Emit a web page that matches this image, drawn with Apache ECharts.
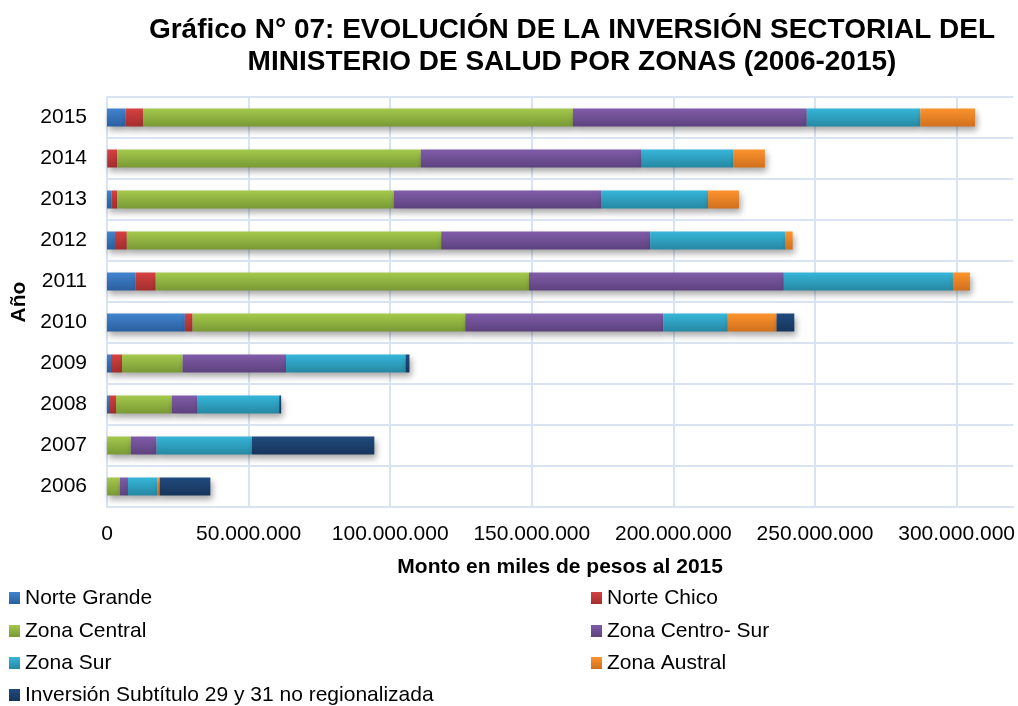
<!DOCTYPE html>
<html>
<head>
<meta charset="utf-8">
<script src="https://cdn.jsdelivr.net/npm/echarts@6/dist/echarts.min.js"></script>
<style>html,body{margin:0;padding:0;background:#fff;}#c{width:1018px;height:706px;}</style>
</head>
<body>
<div id="c"></div>
<script>
// Data (miles de pesos al 2015)
const years = ['2006','2007','2008','2009','2010','2011','2012','2013','2014','2015'];
const norteGrande  = [0,     0,     0.7e6, 1.4e6, 27.5e6, 10.1e6, 2.8e6,  1.65e6, 0.1e6,  6.6e6];
const norteChico   = [0,     0,     2.5e6, 3.9e6, 2.7e6,  7.1e6,  4.2e6,  1.9e6,  3.5e6,  6.1e6];
const zonaCentral  = [4.6e6, 8.4e6, 19.7e6,21.4e6,96.3e6, 131.8e6,111.0e6,97.7e6, 107.2e6,151.8e6];
const zonaCentroSur= [2.8e6, 9.1e6, 9.1e6, 36.5e6,69.9e6, 90.0e6, 73.8e6, 73.4e6, 78.0e6, 82.6e6];
const zonaSur      = [10.4e6,33.7e6,28.8e6,42.2e6,22.8e6, 59.7e6, 47.8e6, 37.6e6, 32.3e6, 40.1e6];
const zonaAustral  = [0.8e6, 0,     0,     0,     17.2e6, 6.0e6,  2.5e6,  10.9e6, 11.2e6, 19.3e6];
const noRegional   = [17.9e6,43.2e6,0.7e6, 1.4e6, 6.3e6,  0,      0,      0,      0,      0];
const xTicks = [0, 50e6, 100e6, 150e6, 200e6, 250e6, 300e6];

const seriesDefs = [
  ['Norte Grande', norteGrande, '#4184cf', '#2b5f9f'],
  ['Norte Chico', norteChico, '#d64141', '#a32e2e'],
  ['Zona Central', zonaCentral, '#a4c94c', '#799935'],
  ['Zona Centro- Sur', zonaCentroSur, '#805ca9', '#5d427e'],
  ['Zona Sur', zonaSur, '#36b6d9', '#2688a3'],
  ['Zona Austral', zonaAustral, '#fc932d', '#d06f1d'],
  ['Inversión Subtítulo 29 y 31 no regionalizada', noRegional, '#204b7e', '#16355a']
];

function fmt(v){
  const s = String(Math.round(v));
  return s.replace(/\B(?=(\d{3})+(?!\d))/g, '.');
}

const font = 'Liberation Sans, Arial, sans-serif';
const gridColor = '#d9e4f2';

const chart = echarts.init(document.getElementById('c'), null, {renderer:'canvas'});
const series = seriesDefs.map(d => ({
  name: d[0], type: 'bar', stack: 'total', data: d[1], barWidth: 18,
  itemStyle: {
    color: new echarts.graphic.LinearGradient(0,0,0,1,[{offset:0,color:d[2]},{offset:1,color:d[3]}]),
    shadowColor: 'rgba(0,0,0,0.35)', shadowBlur: 6, shadowOffsetX: 2, shadowOffsetY: 4
  },
  emphasis: {disabled: true}
}));

// legend slots: [series index, left, top]
const legendSlots = [[0,9,587],[1,591,587],[2,9,620],[3,591,620],[4,9,652],[5,591,652],[6,9,684]];
const legends = legendSlots.map(s => ({
  left: s[1], top: s[2], padding: 0, orient: 'horizontal',
  itemWidth: 11, itemHeight: 12, icon: 'rect', selectedMode: false,
  data: [seriesDefs[s[0]][0]],
  textStyle: {fontFamily: font, fontSize: 21, color: '#000', lineHeight: 22, padding: [0,0,0,0]}
}));

chart.setOption({
  animation: false,
  backgroundColor: '#fff',
  title: {
    text: 'Gráfico N° 07: EVOLUCIÓN DE LA INVERSIÓN SECTORIAL DEL\nMINISTERIO DE SALUD POR ZONAS (2006-2015)',
    left: 572, top: 14, textAlign: 'center', padding: 0,
    textStyle: {fontFamily: font, fontSize: 28, fontWeight: 'bold', color: '#000', lineHeight: 32.5}
  },
  legend: legends,
  grid: {left: 107, top: 97, width: 910, height: 410},
  xAxis: {
    type: 'value', min: 0, max: 320e6, interval: 50e6,
    name: 'Monto en miles de pesos al 2015', nameLocation: 'middle', nameGap: 50,
    nameTextStyle: {fontFamily: font, fontSize: 21, fontWeight: 'bold', color: '#000'},
    axisLine: {show: true, lineStyle: {color: gridColor, width: 2}},
    axisTick: {show: false},
    axisLabel: {fontFamily: font, fontSize: 21, color: '#000', margin: 17, showMaxLabel: false,
      formatter: v => xTicks.indexOf(v) >= 0 ? fmt(v) : ''},
    splitLine: {show: true, showMaxLine: false, lineStyle: {color: gridColor, width: 2}}
  },
  yAxis: {
    type: 'category', data: years,
    name: 'Año', nameLocation: 'middle', nameGap: 72, nameRotate: 90,
    nameTextStyle: {fontFamily: font, fontSize: 21, fontWeight: 'bold', color: '#000'},
    axisLine: {show: true, lineStyle: {color: gridColor, width: 2}},
    axisTick: {show: false},
    axisLabel: {fontFamily: font, fontSize: 21, color: '#000', margin: 20},
    splitLine: {show: true, lineStyle: {color: gridColor, width: 2}}
  },
  series: series
});
</script>
</body>
</html>
